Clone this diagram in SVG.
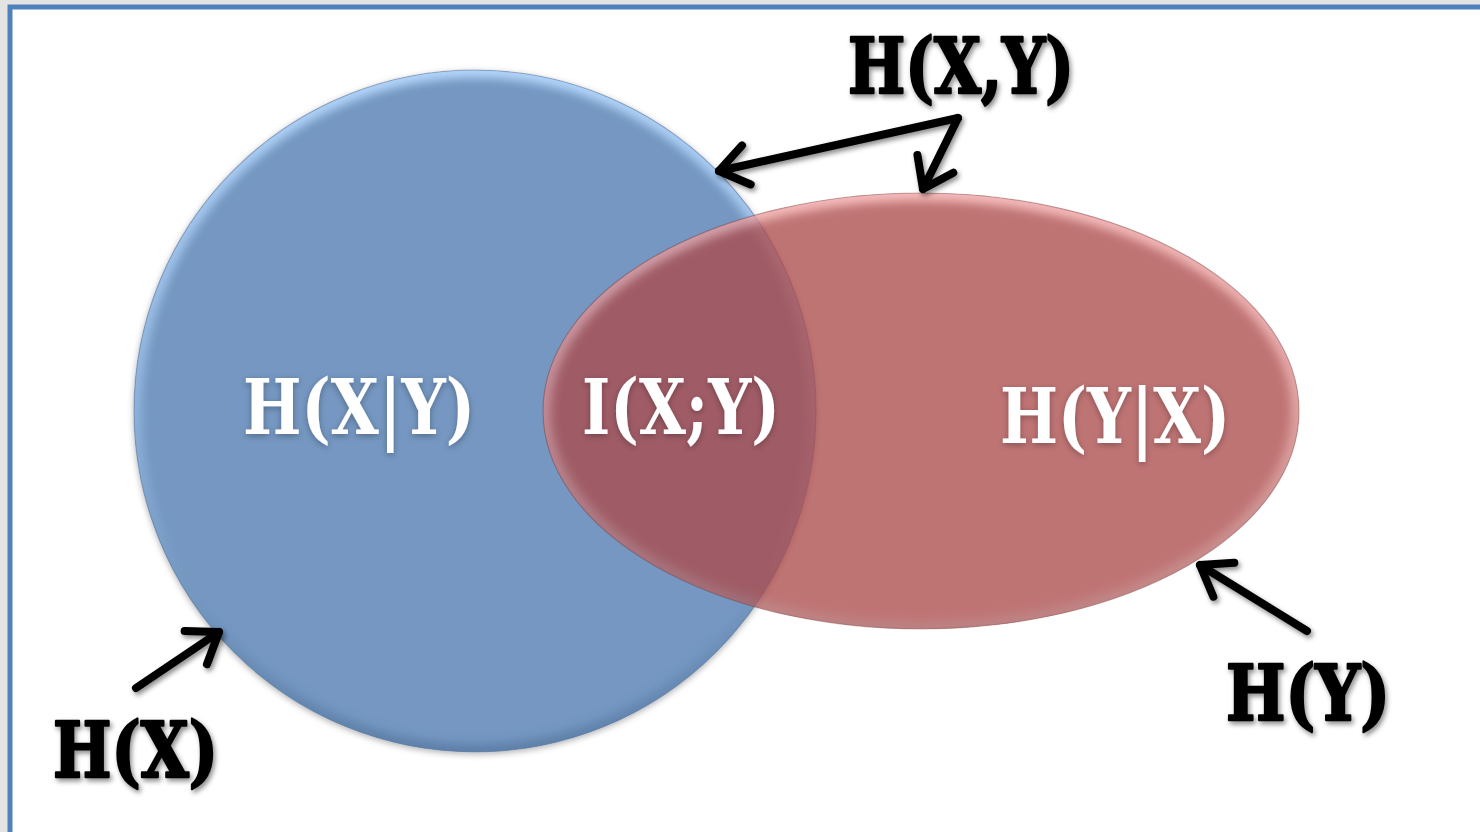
<svg xmlns="http://www.w3.org/2000/svg" width="1480" height="832" viewBox="0 0 1480 832">
  <defs>
    <style>
      .dark { font-family: "DejaVu Serif", "Liberation Serif", serif; font-weight: bold; fill: #000; stroke: #000; stroke-width: 2.5; stroke-linejoin: round; }
      .light { font-family: "DejaVu Serif", "Liberation Serif", serif; font-weight: bold; fill: #fff; }
      .arrow { fill: none; stroke: #000; stroke-width: 8; stroke-linecap: round; marker-end: url(#chev); }
    </style>
    <marker id="chev" markerUnits="userSpaceOnUse" orient="auto" markerWidth="70" markerHeight="70" refX="0" refY="0" viewBox="-45 -35 70 70" overflow="visible">
      <path d="M -28,-20 L 0,0 L -28,20" fill="none" stroke="#000" stroke-width="8" stroke-linecap="round" stroke-linejoin="round"/>
    </marker>
    <filter id="shadow" x="-20%" y="-20%" width="140%" height="140%">
      <feDropShadow dx="2" dy="3" stdDeviation="2.5" flood-color="#000" flood-opacity="0.45"/>
    </filter>
    <filter id="softShadow" x="-10%" y="-10%" width="120%" height="120%">
      <feDropShadow dx="0" dy="2" stdDeviation="3" flood-color="#000" flood-opacity="0.3"/>
    </filter>
    <filter id="bevelBlur" x="-10%" y="-10%" width="120%" height="120%">
      <feGaussianBlur stdDeviation="5"/>
    </filter>
    <clipPath id="clipX"><circle cx="475" cy="411" r="341"/></clipPath>
    <clipPath id="clipY"><ellipse cx="921" cy="411" rx="378" ry="218"/></clipPath>
    <linearGradient id="bevelBlue" x1="0" y1="0" x2="0" y2="1">
      <stop offset="0" stop-color="#b4d6fb"/>
      <stop offset="0.5" stop-color="#8fb3dc"/>
      <stop offset="1" stop-color="#5d7fa8"/>
    </linearGradient>
    <linearGradient id="bevelRed" x1="0" y1="0" x2="0" y2="1">
      <stop offset="0" stop-color="#f4a8a8"/>
      <stop offset="0.5" stop-color="#d88888"/>
      <stop offset="1" stop-color="#a85c5c"/>
    </linearGradient>
  </defs>

  <!-- page background and frame -->
  <rect x="0" y="0" width="1480" height="832" fill="#e3e3e3"/>
  <rect x="10" y="7" width="1480" height="840" fill="#fff" stroke="#4f81bd" stroke-width="5"/>

  <!-- H(X) circle -->
  <g id="set-x" filter="url(#softShadow)">
    <circle cx="475" cy="411" r="341" fill="#7497c1"/>
    <g clip-path="url(#clipX)">
      <circle cx="475" cy="411" r="341" fill="none" stroke="url(#bevelBlue)" stroke-width="16" filter="url(#bevelBlur)"/>
    </g>
    <circle cx="475" cy="411" r="341" fill="none" stroke="#5b7599" stroke-opacity="0.5" stroke-width="1.2"/>
  </g>

  <!-- H(Y) ellipse, translucent over the circle -->
  <g id="set-y" opacity="0.77">
    <ellipse cx="921" cy="411" rx="378" ry="218" fill="#ad4b4b"/>
    <g clip-path="url(#clipY)">
      <ellipse cx="921" cy="411" rx="378" ry="218" fill="none" stroke="url(#bevelRed)" stroke-width="16" filter="url(#bevelBlur)"/>
    </g>
    <ellipse cx="921" cy="411" rx="378" ry="218" fill="none" stroke="#7a3a3a" stroke-opacity="0.5" stroke-width="1.2"/>
  </g>

  <!-- region labels -->
  <g id="label-hxy-cond" filter="url(#softShadow)">
    <text class="light" x="243" y="434" font-size="76" textLength="232" lengthAdjust="spacingAndGlyphs">H(X|Y)</text>
  </g>
  <g id="label-ixy" filter="url(#softShadow)">
    <text class="light" x="582" y="434" font-size="76" textLength="198" lengthAdjust="spacingAndGlyphs">I(X;Y)</text>
  </g>
  <g id="label-hyx-cond" filter="url(#softShadow)">
    <text class="light" x="1000" y="443" font-size="76" textLength="230" lengthAdjust="spacingAndGlyphs">H(Y|X)</text>
  </g>

  <!-- outside labels -->
  <g id="label-joint" filter="url(#shadow)">
    <text class="dark" x="848" y="93" font-size="76" textLength="226" lengthAdjust="spacingAndGlyphs">H(X,Y)</text>
  </g>
  <g id="label-hx" filter="url(#shadow)">
    <text class="dark" x="53" y="777" font-size="76" textLength="165" lengthAdjust="spacingAndGlyphs">H(X)</text>
  </g>
  <g id="label-hy" filter="url(#shadow)">
    <text class="dark" x="1226" y="720" font-size="76" textLength="164" lengthAdjust="spacingAndGlyphs">H(Y)</text>
  </g>

  <!-- connectors -->
  <g id="connectors" filter="url(#shadow)">
    <line class="arrow" x1="958" y1="118" x2="719" y2="171"/>
    <line class="arrow" x1="958" y1="118" x2="923" y2="189"/>
    <line class="arrow" x1="136" y1="688" x2="219" y2="632"/>
    <line class="arrow" x1="1307" y1="631" x2="1200" y2="565"/>
  </g>
</svg>
